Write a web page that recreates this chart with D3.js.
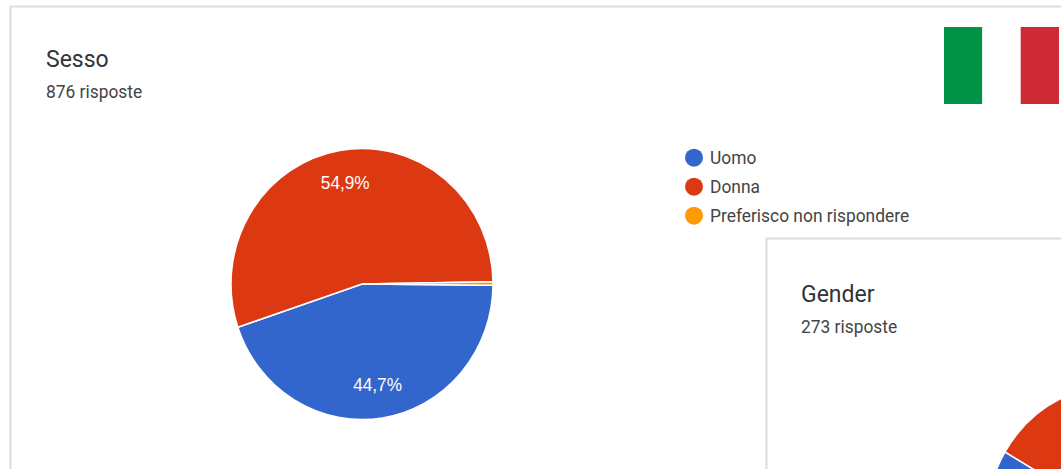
<!DOCTYPE html>
<html>
<head>
<meta charset="utf-8">
<script src="https://cdn.jsdelivr.net/npm/d3@7"></script>
<style>
  html, body { margin: 0; padding: 0; background: #fff; overflow: hidden; }
  svg { display: block; }
  text { font-family: Roboto, sans-serif; }
</style>
</head>
<body>
<svg id="chart" width="1061" height="469"></svg>
<script>
// Survey answers, in percent
const answerLabels = ["Uomo", "Donna", "Preferisco non rispondere"];
const answerColors = ["#3366cc", "#dc3912", "#ff9900"];
const sessoValues = [44.7, 54.9, 0.4];
const genderValues = [58.3, 41.3, 0.4];
const sessoLabels = ["44,7%", "54,9%", ""];
const flagColors = ["#009246", "#ffffff", "#ce2b37"];

const svg = d3.select("#chart");
const radius = 131;
const stretchY = 1.035;            // the whole layout is slightly taller than wide
const startAngle = 90.5 * Math.PI / 180;

const pie = d3.pie().sort(null)
  .startAngle(startAngle)
  .endAngle(startAngle + 2 * Math.PI);
const arc = d3.arc().innerRadius(0).outerRadius(radius);

// Text placed on a baseline with the same vertical stretch as the pies
function putText(parent, x, y, size, fill, str) {
  return parent.append("text")
    .attr("transform", `translate(${x},${y}) scale(1,${stretchY})`)
    .attr("font-size", size).attr("fill", fill).text(str);
}

// Question card: bordered panel, heading, response count
function drawCard(x, y, textX, titleY, countY, title, count) {
  svg.append("rect")
    .attr("x", x + 0.5).attr("y", y + 0.5)
    .attr("width", 1061 - x + 20).attr("height", 469 - y + 20)
    .attr("fill", "#fff").attr("stroke", "#dcdcdc").attr("stroke-width", 2);
  putText(svg, textX, titleY, 23, "#333", title);
  putText(svg, textX, countY, 17.4, "#444", count);
}

function drawPie(cx, cy, values, labels) {
  const g = svg.append("g")
    .attr("transform", `translate(${cx},${cy}) scale(1,${stretchY})`);
  const slices = pie(values);
  g.selectAll("path").data(slices).join("path")
    .attr("d", arc)
    .attr("fill", (d, i) => answerColors[i])
    .attr("stroke", "#fff").attr("stroke-width", 1.5);
  const labelArc = d3.arc().innerRadius(radius * 0.755).outerRadius(radius * 0.755);
  g.selectAll("text").data(slices).join("text")
    .attr("transform", d => `translate(${labelArc.centroid(d)})`)
    .attr("text-anchor", "middle").attr("dy", "0.35em")
    .attr("fill", "#fff").attr("font-size", 17.2)
    .style("font-family", "'Liberation Sans', Arial, sans-serif")
    .text((d, i) => labels[i]);
}

drawCard(10, 6, 46, 67, 97.5, "Sesso", "876 risposte");
drawPie(362, 284, sessoValues, sessoLabels);

// Legend
const legend = svg.append("g");
const legendY = d3.scalePoint().domain(answerLabels).range([157.7, 215.7]);
legend.selectAll("circle").data(answerLabels).join("circle")
  .attr("cx", 694).attr("cy", d => legendY(d)).attr("r", 9)
  .attr("fill", (d, i) => answerColors[i]);
answerLabels.forEach(d => {
  putText(legend, 710, legendY(d) + 6.4, 17.4, "#444", d);
});

// Second card, overlapping the first and running off the page
drawCard(766, 238, 801, 301.5, 333, "Gender", "273 risposte");
drawPie(1118, 520.5, genderValues, ["", "", ""]);

// Italian flag
const flagX = d3.scaleBand().domain(d3.range(flagColors.length)).range([944, 1059]);
svg.append("g").selectAll("rect").data(flagColors).join("rect")
  .attr("x", (d, i) => flagX(i)).attr("y", 27)
  .attr("width", flagX.bandwidth()).attr("height", 77)
  .attr("fill", d => d);
</script>
</body>
</html>
